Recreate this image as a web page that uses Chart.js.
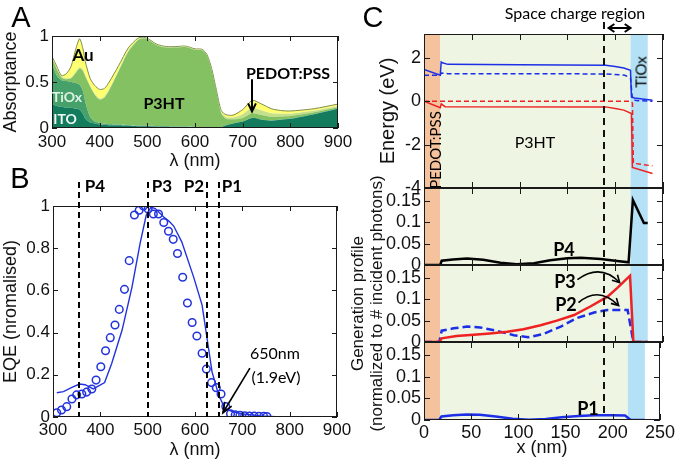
<!DOCTYPE html>
<html>
<head>
<meta charset="utf-8">
<script src="https://cdn.jsdelivr.net/npm/chart.js@4/dist/chart.umd.min.js"></script>
<style>
html,body{margin:0;padding:0;background:#fff;}
#wrap{position:relative;width:677px;height:460px;overflow:hidden;background:#fff;}
#wrap canvas{position:absolute;left:0;top:0;}
.t{position:absolute;white-space:nowrap;transform:translate(-50%,-50%);line-height:1;font-family:Lato,"Open Sans",sans-serif;color:#000;}
.rot{transform:translate(-50%,-50%) rotate(-90deg);}
.bold{font-weight:700;}
.ar{font-family:"Liberation Sans",Arial,sans-serif;}
</style>
</head>
<body>
<div id="wrap">
<canvas id="cA" width="677" height="460"></canvas>
<canvas id="cB" width="677" height="460"></canvas>
<canvas id="c1" width="677" height="460"></canvas>
<canvas id="c2" width="677" height="460"></canvas>
<canvas id="c3" width="677" height="460"></canvas>
<canvas id="c4" width="677" height="460"></canvas>

<div class="t ar" style="left:21px;top:17px;font-size:29px">A</div>
<div class="t bold" style="left:83px;top:54px;font-size:17px">Au</div>
<div class="t bold" style="left:67px;top:97px;font-size:14px;color:#dff2e6">TiOx</div>
<div class="t bold" style="left:65px;top:119px;font-size:14px;color:#eef8f2">ITO</div>
<div class="t bold" style="left:164px;top:103px;font-size:16px">P3HT</div>
<div class="t bold" style="left:288px;top:73px;font-size:16px">PEDOT:PSS</div>

<div class="t ar" style="left:20px;top:178px;font-size:29px">B</div>
<div class="t bold" style="left:95px;top:185px;font-size:17px">P4</div>
<div class="t bold" style="left:162px;top:185px;font-size:17px">P3</div>
<div class="t bold" style="left:194px;top:185px;font-size:17px">P2</div>
<div class="t bold" style="left:232px;top:185px;font-size:17px">P1</div>
<div class="t" style="left:275px;top:353px;font-size:16px">650nm</div>
<div class="t" style="left:276px;top:377px;font-size:16px">(1.9eV)</div>

<div class="t ar" style="left:373px;top:17px;font-size:29px">C</div>
<div class="t" style="left:575px;top:13px;font-size:16px">Space charge region</div>
<div class="t" style="left:535px;top:142px;font-size:16px">P3HT</div>
<div class="t rot" style="left:435px;top:150px;font-size:15px">PEDOT:PSS</div>
<div class="t rot" style="left:641px;top:72px;font-size:15px">TiOx</div>
<div class="t bold" style="left:564px;top:249px;font-size:18px">P4</div>
<div class="t bold" style="left:565px;top:281px;font-size:18px">P3</div>
<div class="t bold" style="left:566px;top:304px;font-size:18px">P2</div>
<div class="t bold" style="left:588px;top:408px;font-size:18px">P1</div>
</div>

<script>
// ---------------- Panel A : absorptance of each layer (cumulative boundaries) ----------------
const absLambda = [300,310,320,330,340,350,358,365,370,380,390,400,410,420,440,460,480,490,500,520,540,560,580,600,615,625,635,645,655,665,680,700,720,740,760,780,800,850,900];
const itoTop   = [0.26,0.24,0.23,0.22,0.22,0.21,0.20,0.15,0.10,0.06,0.05,0.04,0.035,0.03,0.03,0.025,0.02,0.02,0.02,0.015,0.015,0.01,0.01,0.01,0.01,0.01,0.01,0.01,0.01,0.03,0.05,0.07,0.11,0.09,0.08,0.09,0.10,0.15,0.21];
const tioxTop  = [0.70,0.57,0.52,0.51,0.50,0.49,0.47,0.40,0.28,0.12,0.07,0.055,0.045,0.04,0.035,0.03,0.025,0.025,0.025,0.02,0.02,0.015,0.015,0.012,0.012,0.012,0.012,0.012,0.012,0.032,0.052,0.072,0.112,0.092,0.082,0.092,0.102,0.152,0.212];
const p3htTop  = [0.76,0.64,0.55,0.53,0.54,0.60,0.65,0.62,0.56,0.45,0.36,0.31,0.33,0.41,0.62,0.83,0.955,0.975,0.965,0.90,0.875,0.875,0.88,0.85,0.845,0.79,0.63,0.40,0.16,0.10,0.095,0.11,0.16,0.14,0.12,0.125,0.13,0.17,0.225];
const pedotTop = [0.77,0.65,0.56,0.54,0.55,0.61,0.66,0.63,0.57,0.46,0.37,0.32,0.34,0.42,0.63,0.84,0.96,0.98,0.97,0.905,0.88,0.88,0.885,0.855,0.85,0.795,0.635,0.405,0.17,0.12,0.115,0.15,0.22,0.19,0.16,0.155,0.155,0.19,0.24];
const auTop    = [0.78,0.67,0.57,0.59,0.67,0.86,0.97,0.86,0.72,0.54,0.46,0.42,0.43,0.50,0.68,0.87,0.975,0.985,0.975,0.91,0.885,0.885,0.89,0.86,0.855,0.80,0.645,0.41,0.19,0.145,0.14,0.20,0.30,0.26,0.21,0.19,0.185,0.21,0.26];
const layerNames  = ['ITO','TiOx','P3HT','PEDOT:PSS','Au'];
const layerColors = ['#137c5d','#45a06a','#84c163','#c6e08a','#ffff72'];
const pedotArrow = {x:720, y0:0.53, y1:0.18};

// ---------------- Panel B : EQE ----------------
const eqeSimX = [308,322,340,356,368,385,409,424,446,467,484,497,507,516,534,546,555,572,597,615,626,636,650,663,680,700,740,780,900];
const eqeSimY = [0.115,0.12,0.14,0.156,0.153,0.133,0.163,0.254,0.412,0.617,0.823,0.957,0.995,0.988,0.948,0.926,0.905,0.83,0.664,0.53,0.365,0.214,0.104,0.041,0.025,0.015,0.005,0.0,0.0];
const eqeMeasX = [308,318,329,340,350,361,371,382,391,401,411,421,431,440,451,461,472,482,491,501,512,523,534,544,554,563,574,584,594,604,615,624,635,645,655,665,675,685,695,705,715,725,735,745,752];
const eqeMeasY = [0.02,0.033,0.049,0.085,0.105,0.109,0.118,0.133,0.175,0.238,0.314,0.376,0.436,0.51,0.605,0.741,0.957,0.98,1.0,0.986,0.962,0.962,0.922,0.88,0.842,0.775,0.662,0.54,0.448,0.384,0.302,0.227,0.163,0.139,0.109,0.05,0.015,0.01,0.008,0.006,0.005,0.004,0.003,0.003,0.002];
const peakNames  = ['P4','P3','P2','P1'];
const peakLambda = [355,500,625,650];
const eqeArrow = {x0:716, y0:0.232, x1:659, y1:0.02};

// ---------------- Panel C : band diagram and generation profiles ----------------
const regionNames  = ['PEDOT:PSS','P3HT','TiOx'];
const regionBounds = [0,17,216,234];
const regionColors = ['#f4c29c','#eef5e2','#b4e1f5'];
const lumoX  = [0,17,18,20,25,100,190,200,209,216,217,220,239];
const lumoY  = [1.47,1.2,1.81,1.76,1.7,1.68,1.66,1.6,1.53,1.43,0.2,0.15,0.05];
const qfnX   = [0,17,18,25,190,210,216,218,222,239];
const qfnY   = [1.2,1.2,1.3,1.27,1.26,1.2,1.08,0.1,0.03,0.0];
const homoX  = [0,17,18,22,190,200,209,217,218,239];
const homoY  = [0,-0.3,-0.12,-0.25,-0.26,-0.33,-0.41,-0.57,-3.05,-3.33];
const qfpX   = [0,216,218,219,239];
const qfpY   = [0,0,-0.08,-2.86,-2.98];
const p4X = [0,17,18.5,30,45,62,80,97,115,132,150,164,185,202,214,218.5,230,234];
const p4Y = [0,0,0.01,0.013,0.015,0.012,0.0055,0.0016,0.004,0.011,0.016,0.017,0.014,0.0094,0.0063,0.152,0.098,0.098];
const p3X = [0,16,18.5,34,52,69,87,104,122,139,157,174,192,202,215.5,219,234];
const p3Y = [0,0,0.0086,0.014,0.017,0.02,0.024,0.03,0.039,0.05,0.063,0.083,0.106,0.126,0.155,0,0];
const p2X = [0,16,18.5,31,45,59,76,94,109,125,143,160,178,192,213,219,234];
const p2Y = [0,0,0.0265,0.032,0.036,0.034,0.026,0.016,0.011,0.019,0.036,0.056,0.069,0.075,0.075,0,0];
const p1X = [0,16,18.5,31,45,59,76,94,111,129,146,164,181,199,213,219,234];
const p1Y = [0,0,0.008,0.011,0.0127,0.012,0.008,0.003,0.0008,0.0024,0.0063,0.0095,0.011,0.011,0.0103,0,0];
const scrStart = 191, scrEnd = 216;
const p3Arrow = {x0:160.5,y0:0.146,cx:184.7,cy:0.185,x1:204.6,y1:0.139};
const p2Arrow = {x0:161.6,y0:0.092,cx:182.6,cy:0.132,x1:203.6,y1:0.085};

// ---------------- helpers ----------------
const pts = (xs, ys) => xs.map((x,i)=>({x:x, y:ys[i]}));
const fmt = v => String(Number(Number(v).toFixed(4)));
Chart.defaults.font.family = '"Liberation Sans", Arial, sans-serif';
Chart.defaults.color = '#111';
Chart.defaults.animation = false;
Chart.defaults.events = [];
Chart.defaults.plugins.legend.display = false;
Chart.defaults.plugins.tooltip.enabled = false;

function xScale(o){
  return {
    type:'linear', position:'bottom', min:o.min, max:o.max,
    grid:{display:false, drawTicks:false}, border:{display:false},
    ticks:{stepSize:o.step, includeBounds:false, autoSkip:false, maxRotation:0, display:o.labels!==false,
           padding:o.pad||3, font:{size:o.fs||17}, color:'#111', callback:fmt},
    title:{display:!!o.title, text:o.title||'', font:{size:18, lineHeight:1.1}, padding:0, color:'#111'},
    afterFit(s){ s.height = o.h; }
  };
}
function yScale(o){
  return {
    type:'linear', position:'left', min:o.min, max:o.max,
    grid:{display:false, drawTicks:false}, border:{display:false},
    ticks:{stepSize:o.step, includeBounds:false, autoSkip:false, padding:o.pad||3, font:{size:o.fs||17}, color:'#111', callback:fmt},
    title:{display:!!o.title, text:o.title||'', font:{size:o.tfs||18, lineHeight:o.tlh||1.2}, padding:0, color:'#111'},
    afterFit(s){ s.width = o.w; }
  };
}
const framePlugin = {
  id:'frame',
  afterDatasetsDraw(chart, args, opts){
    const {ctx, chartArea:a, scales} = chart;
    const L = opts.len || 5;
    ctx.save();
    ctx.strokeStyle = '#1a1a1a'; ctx.lineWidth = 1;
    ctx.beginPath();
    scales.x.ticks.forEach(t=>{
      const p = Math.round(scales.x.getPixelForValue(t.value))+0.5;
      ctx.moveTo(p, a.bottom); ctx.lineTo(p, a.bottom-L);
      ctx.moveTo(p, a.top); ctx.lineTo(p, a.top+L);
    });
    scales.y.ticks.forEach(t=>{
      const p = Math.round(scales.y.getPixelForValue(t.value))+0.5;
      ctx.moveTo(a.left, p); ctx.lineTo(a.left+L, p);
      ctx.moveTo(a.right, p); ctx.lineTo(a.right-L, p);
    });
    ctx.stroke();
    ctx.strokeRect(Math.round(a.left)+0.5, Math.round(a.top)+0.5, Math.round(a.width)-1, Math.round(a.height)-1);
    ctx.restore();
  }
};
function arrowHead(ctx, x, y, ang, len, spread){
  ctx.beginPath();
  ctx.moveTo(x - len*Math.cos(ang-spread), y - len*Math.sin(ang-spread));
  ctx.lineTo(x, y);
  ctx.lineTo(x - len*Math.cos(ang+spread), y - len*Math.sin(ang+spread));
  ctx.stroke();
}
const regionPlugin = {
  id:'regions',
  beforeDatasetsDraw(chart){
    const {ctx, chartArea:a, scales:{x}} = chart;
    ctx.save();
    for (let i=0;i<regionColors.length;i++){
      const x0 = x.getPixelForValue(regionBounds[i]), x1 = x.getPixelForValue(regionBounds[i+1]);
      ctx.fillStyle = regionColors[i];
      ctx.fillRect(x0, a.top, x1-x0, a.height);
    }
    ctx.restore();
  }
};
function lineDs(label, xs, ys, color, width, dash){
  return {label, data:pts(xs,ys), borderColor:color, borderWidth:width, borderDash:dash||[], pointRadius:0, tension:0, fill:false};
}

// ---------------- Chart A ----------------
const tops = [itoTop, tioxTop, p3htTop, pedotTop, auTop];
new Chart(document.getElementById('cA'), {
  type:'line',
  data:{datasets: tops.map((arr,i)=>({
    label:layerNames[i], data:pts(absLambda, arr), fill: i===0 ? 'origin' : '-1',
    backgroundColor:layerColors[i], borderColor: i===4 ? '#7d8a4a' : layerColors[i],
    borderWidth: i===4 ? 1 : 0, pointRadius:0, tension:0.25
  }))},
  options:{
    responsive:false, devicePixelRatio:1,
    layout:{padding:{left:0, top:36, right:339, bottom:289}},
    scales:{
      x: xScale({min:300,max:900,step:100,h:43,pad:4,title:'λ (nm)'}),
      y: yScale({min:0,max:1,step:0.5,w:52,title:'Absorptance'})
    },
    plugins:{frame:{len:5}}
  },
  plugins:[framePlugin, {
    id:'annotA',
    afterDatasetsDraw(chart){
      const {ctx, scales:{x,y}} = chart;
      const px = Math.round(x.getPixelForValue(pedotArrow.x));
      const y0 = y.getPixelForValue(pedotArrow.y0), y1 = y.getPixelForValue(pedotArrow.y1);
      ctx.save(); ctx.strokeStyle='#000'; ctx.lineWidth=2;
      ctx.beginPath(); ctx.moveTo(px,y0); ctx.lineTo(px,y1); ctx.stroke();
      arrowHead(ctx, px, y1, Math.PI/2, 9, 0.45);
      ctx.restore();
    }
  }]
});

// ---------------- Chart B ----------------
new Chart(document.getElementById('cB'), {
  type:'line',
  data:{datasets:[
    {label:'measured', data:pts(eqeMeasX, eqeMeasY), showLine:false, pointRadius:3.8, pointBorderWidth:1.5,
     pointBorderColor:'#2233dd', pointBackgroundColor:'rgba(0,0,0,0)', borderColor:'#2233dd'},
    lineDs('simulated', eqeSimX, eqeSimY, '#2233dd', 1.4)
  ]},
  options:{
    responsive:false, devicePixelRatio:1,
    layout:{padding:{left:0, top:206, right:340, bottom:0}},
    scales:{
      x: xScale({min:300,max:900,step:100,h:43,pad:3,title:'λ (nm)'}),
      y: yScale({min:0,max:1,step:0.2,w:53,title:'EQE (nromalised)'})
    },
    plugins:{frame:{len:5}}
  },
  plugins:[framePlugin, {
    id:'annotB',
    afterDatasetsDraw(chart){
      const {ctx, chartArea:a, scales:{x,y}} = chart;
      ctx.save(); ctx.strokeStyle='#000'; ctx.lineWidth=2; ctx.setLineDash([6,4]);
      peakLambda.forEach(l=>{
        const px = Math.round(x.getPixelForValue(l));
        ctx.beginPath(); ctx.moveTo(px, a.top-24); ctx.lineTo(px, a.bottom); ctx.stroke();
      });
      ctx.setLineDash([]); ctx.lineWidth=1.6;
      const x0=x.getPixelForValue(eqeArrow.x0), y0=y.getPixelForValue(eqeArrow.y0);
      const x1=x.getPixelForValue(eqeArrow.x1), y1=y.getPixelForValue(eqeArrow.y1);
      ctx.beginPath(); ctx.moveTo(x0,y0); ctx.lineTo(x1,y1); ctx.stroke();
      arrowHead(ctx, x1, y1, Math.atan2(y1-y0, x1-x0), 11, 0.38);
      ctx.restore();
    }
  }]
});

// ---------------- Chart C1 : energy ----------------
const BLUE = '#1d2fe6', RED = '#ee2222';
new Chart(document.getElementById('c1'), {
  type:'line',
  data:{datasets:[
    lineDs('E_C', lumoX, lumoY, BLUE, 1.5),
    lineDs('E_Fn', qfnX, qfnY, BLUE, 1.5, [5,3]),
    lineDs('E_V', homoX, homoY, RED, 1.5),
    lineDs('E_Fp', qfpX, qfpY, RED, 1.5, [5,3])
  ]},
  options:{
    responsive:false, devicePixelRatio:1,
    layout:{padding:{left:376, top:34, right:14, bottom:272}},
    scales:{
      x: xScale({min:0,max:250,step:50,h:0,labels:false}),
      y: yScale({min:-4,max:3.1,step:2,w:48,fs:18,pad:3,title:'Energy (eV)',tfs:20,tlh:1.2})
    },
    plugins:{frame:{len:6}}
  },
  plugins:[regionPlugin, framePlugin, {
    id:'annotC1',
    afterDatasetsDraw(chart){
      const {ctx, chartArea:a, scales:{x}} = chart;
      const x0 = x.getPixelForValue(scrStart)+2, x1 = x.getPixelForValue(scrEnd), yy = a.top-6;
      ctx.save(); ctx.strokeStyle='#000'; ctx.lineWidth=2;
      ctx.beginPath(); ctx.moveTo(x0,yy); ctx.lineTo(x1,yy); ctx.stroke();
      arrowHead(ctx, x1, yy, 0, 7, 0.6); arrowHead(ctx, x0, yy, Math.PI, 7, 0.6);
      ctx.restore();
    }
  }]
});

// ---------------- Chart C2 : P4 ----------------
new Chart(document.getElementById('c2'), {
  type:'line',
  data:{datasets:[ lineDs('P4', p4X, p4Y, '#000', 2.5) ]},
  options:{
    responsive:false, devicePixelRatio:1,
    layout:{padding:{left:376, top:188, right:14, bottom:195}},
    scales:{
      x: xScale({min:0,max:250,step:50,h:0,labels:false}),
      y: yScale({min:0,max:0.18,step:0.05,w:48,fs:18,pad:3})
    },
    plugins:{frame:{len:6}}
  },
  plugins:[regionPlugin, framePlugin]
});

// ---------------- Chart C3 : P3 & P2 ----------------
new Chart(document.getElementById('c3'), {
  type:'line',
  data:{datasets:[ lineDs('P3', p3X, p3Y, RED, 2.5), lineDs('P2', p2X, p2Y, BLUE, 2.5, [8,4]) ]},
  options:{
    responsive:false, devicePixelRatio:1,
    layout:{padding:{left:348.5, top:265, right:14, bottom:118}},
    scales:{
      x: xScale({min:0,max:250,step:50,h:0,labels:false}),
      y: yScale({min:0,max:0.18,step:0.05,w:75.5,fs:18,pad:3,
                 title:['Generation profile','(normalized to # incident photons)'],tfs:17,tlh:1.12})
    },
    plugins:{frame:{len:6}}
  },
  plugins:[regionPlugin, framePlugin, {
    id:'annotC3',
    afterDatasetsDraw(chart){
      const {ctx, scales:{x,y}} = chart;
      ctx.save(); ctx.strokeStyle='#000'; ctx.lineWidth=1.6;
      [p3Arrow, p2Arrow].forEach(ar=>{
        const x0=x.getPixelForValue(ar.x0), y0=y.getPixelForValue(ar.y0);
        const cx=x.getPixelForValue(ar.cx), cy=y.getPixelForValue(ar.cy);
        const x1=x.getPixelForValue(ar.x1), y1=y.getPixelForValue(ar.y1);
        ctx.beginPath(); ctx.moveTo(x0,y0); ctx.quadraticCurveTo(cx,cy,x1,y1); ctx.stroke();
        arrowHead(ctx, x1, y1, Math.atan2(y1-cy, x1-cx), 8, 0.5);
      });
      ctx.restore();
    }
  }]
});

// ---------------- Chart C4 : P1 ----------------
new Chart(document.getElementById('c4'), {
  type:'line',
  data:{datasets:[ lineDs('P1', p1X, p1Y, BLUE, 2.5) ]},
  options:{
    responsive:false, devicePixelRatio:1,
    layout:{padding:{left:376, top:342, right:14, bottom:2}},
    scales:{
      x: xScale({min:0,max:250,step:50,h:38,fs:18,pad:2,title:'x (nm)'}),
      y: yScale({min:0,max:0.18,step:0.05,w:48,fs:18,pad:3})
    },
    plugins:{frame:{len:6}}
  },
  plugins:[regionPlugin, framePlugin, {
    id:'annotC4',
    afterDatasetsDraw(chart){
      const {ctx, chartArea:a, scales:{x}} = chart;
      const px = Math.round(x.getPixelForValue(scrStart));
      ctx.save(); ctx.strokeStyle='#111'; ctx.lineWidth=2; ctx.setLineDash([7,5]);
      ctx.beginPath(); ctx.moveTo(px, 22); ctx.lineTo(px, a.bottom-3); ctx.stroke();
      ctx.restore();
    }
  }]
});
</script>
</body>
</html>
